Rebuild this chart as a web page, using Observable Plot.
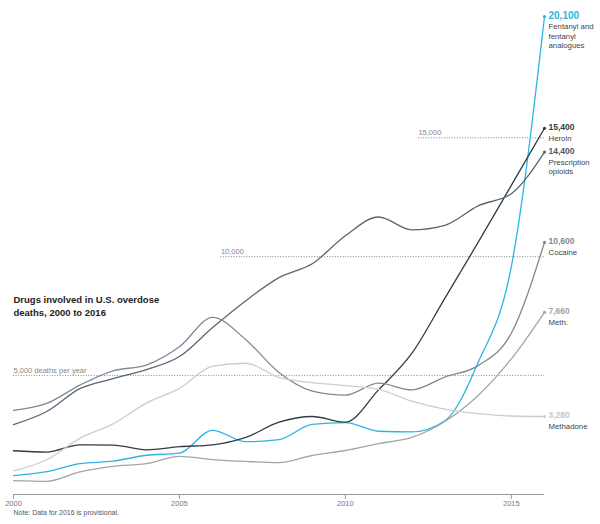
<!DOCTYPE html>
<html><head><meta charset="utf-8">
<script src="https://cdn.jsdelivr.net/npm/d3@7"></script>
<script src="https://cdn.jsdelivr.net/npm/@observablehq/plot@0.6"></script>
<style>
body{margin:0;background:#fff;font-family:"Liberation Sans",Arial,sans-serif;}
#chart svg{display:block}
</style></head>
<body><div id="chart"></div>
<script>
const years = [2000,2001,2002,2003,2004,2005,2006,2007,2008,2009,2010,2011,2012,2013,2014,2015,2016];
const fentanyl = [790,960,1300,1400,1650,1740,2700,2220,2310,2950,3020,2660,2630,3100,5550,9580,20100];
const heroin = [1840,1780,2090,2080,1880,2010,2090,2400,3040,3280,3040,4400,5930,8260,10600,13000,15400];
const prescription = [2940,3490,4450,4870,5250,5800,7020,8150,9120,9700,10880,11670,11130,11320,12140,12650,14400];
const cocaine = [3540,3830,4600,5200,5440,6210,7450,6510,5130,4350,4180,4680,4400,4940,5420,6780,10600];
const meth = [580,550,950,1180,1300,1600,1470,1390,1340,1640,1850,2140,2400,3070,4160,5700,7660];
const methadone = [990,1460,2360,2970,3840,4460,5400,5520,4920,4700,4580,4420,3930,3590,3400,3300,3280];

const seriesNames = ["Fentanyl and\nfentanyl\nanalogues","Heroin","Prescription\nopioids","Cocaine","Meth.","Methadone"];
const seriesValues = [fentanyl, heroin, prescription, cocaine, meth, methadone];
const seriesColors = ["#2cb5e3","#313c47","#5b6672","#7f8994","#a3a5a8","#cdcdcd"];
const labelColors = ["#2cb5e3","#313c47","#4f5a66","#7f8994","#a3a5a8","#c6c6c6"];
const endLabels = ["20,100","15,400","14,400","10,600","7,660","3,280"];

const gridValues = [5000,10000,15000];
const gridStarts = [2000,2006.25,2012.2];
const gridLabels = ["5,000 deaths per year","10,000","15,000"];
const xTicks = [2000,2005,2010,2015];

const rows = [];
seriesNames.forEach((n,i)=>years.forEach((y,j)=>rows.push({name:n,year:y,value:seriesValues[i][j],color:seriesColors[i]})));
const ends = seriesNames.map((n,i)=>({name:n,year:years[years.length-1],value:seriesValues[i][years.length-1],color:seriesColors[i],lcolor:labelColors[i],label:endLabels[i],big:i===0}));
const grid = gridValues.map((v,i)=>({value:v,start:gridStarts[i],label:gridLabels[i]}));

const plot = Plot.plot({
  width:600, height:524,
  marginLeft:13, marginRight:56, marginTop:16, marginBottom:30,
  x:{domain:[2000,2016], axis:null},
  y:{domain:[0,20100], axis:null},
  style:{fontFamily:"Liberation Sans, Arial, sans-serif", background:"#fff"},
  marks:[
    Plot.ruleY(grid,{y:"value",x1:"start",x2:2016,stroke:"#777",strokeWidth:0.9,strokeDasharray:"1,1.6"}),
    Plot.text(grid,{x:"start",y:"value",text:"label",textAnchor:"start",dy:-5,fontSize:7.5,fill:"#888"}),
    Plot.ruleY([0],{stroke:"#999",strokeWidth:1}),
    Plot.ruleX(xTicks,{x:d=>d,y1:0,y2:0,stroke:"#999",insetBottom:-5}),
    Plot.text(xTicks,{x:d=>d,frameAnchor:"bottom",dy:11,text:d=>String(d),fontSize:7.5,fill:"#777"}),
    Plot.line(rows,{x:"year",y:"value",z:"name",stroke:"color",strokeWidth:1.3,curve:"monotone-x"}),
    Plot.dot(ends,{x:"year",y:"value",r:1.6,fill:"color"}),
    Plot.text(ends,{x:"year",y:"value",text:"label",fill:"lcolor",fontWeight:"bold",fontSize:d=>d.big?10:8.5,textAnchor:"start",dx:4,dy:-1}),
    Plot.text(ends,{x:"year",y:"value",text:"name",fill:"#444",fontSize:7.8,textAnchor:"start",lineAnchor:"top",dx:4,dy:6,lineHeight:1.2}),
    Plot.text(["Drugs involved in U.S. overdose\ndeaths, 2000 to 2016"],{x:2000,y:8250,textAnchor:"start",lineAnchor:"middle",fontWeight:"bold",fontSize:9.5,fill:"#222",lineHeight:1.35,dy:7}),
    Plot.text(["Note: Data for 2016 is provisional."],{frameAnchor:"bottom-left",dy:20,textAnchor:"start",fontSize:7,fill:"#555"})
  ]
});
document.getElementById("chart").append(plot);
</script></body></html>
